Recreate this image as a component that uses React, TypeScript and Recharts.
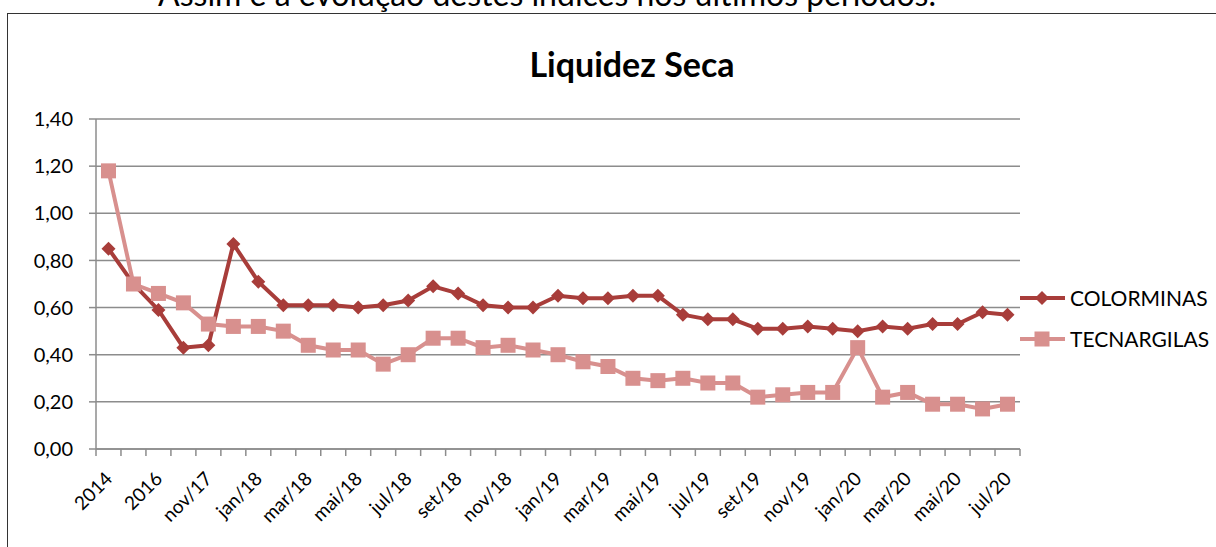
import React from "react";
import { LineChart, Line, XAxis, YAxis, CartesianGrid, Legend } from "recharts";

const months = [
  "2014", "2015", "2016", "2017", "nov/17", "dez/17", "jan/18", "fev/18",
  "mar/18", "abr/18", "mai/18", "jun/18", "jul/18", "ago/18", "set/18",
  "out/18", "nov/18", "dez/18", "jan/19", "fev/19", "mar/19", "abr/19",
  "mai/19", "jun/19", "jul/19", "ago/19", "set/19", "out/19", "nov/19",
  "dez/19", "jan/20", "fev/20", "mar/20", "abr/20", "mai/20", "jun/20",
  "jul/20",
];

const colorminas = [
  0.85, 0.7, 0.59, 0.43, 0.44, 0.87, 0.71, 0.61, 0.61, 0.61, 0.6, 0.61, 0.63,
  0.69, 0.66, 0.61, 0.6, 0.6, 0.65, 0.64, 0.64, 0.65, 0.65, 0.57, 0.55, 0.55,
  0.51, 0.51, 0.52, 0.51, 0.5, 0.52, 0.51, 0.53, 0.53, 0.58, 0.57,
];

const tecnargilas = [
  1.18, 0.7, 0.66, 0.62, 0.53, 0.52, 0.52, 0.5, 0.44, 0.42, 0.42, 0.36, 0.4,
  0.47, 0.47, 0.43, 0.44, 0.42, 0.4, 0.37, 0.35, 0.3, 0.29, 0.3, 0.28, 0.28,
  0.22, 0.23, 0.24, 0.24, 0.43, 0.22, 0.24, 0.19, 0.19, 0.17, 0.19,
];

const yTicks = [0, 0.2, 0.4, 0.6, 0.8, 1.0, 1.2, 1.4];

const data = months.map((month, i) => ({
  month,
  colorminas: colorminas[i],
  tecnargilas: tecnargilas[i],
}));

const FONT = "Lato, 'Open Sans', sans-serif";
const DARK = "#A83D3A";
const PINK = "#D8908E";
const AXIS = "#8c8c8c";

const W = 1216;
const H = 547;
const MARGIN = { top: 119, right: 6, bottom: 28, left: 36 };
const Y_AXIS_W = 60;
const LEGEND_W = 190;
const PLOT_W = W - MARGIN.left - Y_AXIS_W - MARGIN.right - LEGEND_W;
const HALF_BAND = PLOT_W / months.length / 2;

const diamondPath = (cx: number, cy: number, r: number) =>
  `M${cx},${cy - r}L${cx + r},${cy}L${cx},${cy + r}L${cx - r},${cy}Z`;

const DiamondDot = (props: any) => {
  const { cx, cy, index } = props;
  if (cx == null || cy == null) return <g key={index} />;
  return <path key={index} d={diamondPath(cx, cy, 7)} fill={DARK} />;
};

const SquareDot = (props: any) => {
  const { cx, cy, index } = props;
  if (cx == null || cy == null) return <g key={index} />;
  return (
    <rect key={index} x={cx - 7.5} y={cy - 7.5} width={15} height={15} fill={PINK} />
  );
};

// ticks sit between categories, labels on every other category
const XTick = (props: any) => {
  const { x, y, payload, index } = props;
  return (
    <g>
      <line x1={x - HALF_BAND} x2={x - HALF_BAND} y1={y} y2={y + 7} stroke={AXIS} strokeWidth={1.5} />
      {index === months.length - 1 && (
        <line x1={x + HALF_BAND} x2={x + HALF_BAND} y1={y} y2={y + 7} stroke={AXIS} strokeWidth={1.5} />
      )}
      {index % 2 === 0 && (
        <text
          transform={`translate(${x + 5},${y + 31}) rotate(-45)`}
          textAnchor="end"
          fontFamily={FONT}
          fontSize={19}
          fill="#000"
        >
          {payload.value}
        </text>
      )}
    </g>
  );
};

const LegendContent = (props: any) => {
  const { payload } = props;
  return (
    <div style={{ fontFamily: FONT, fontSize: 21, color: "#000" }}>
      {(payload || []).map((entry: any) => {
        const isDark = entry.dataKey === "colorminas";
        return (
          <div key={entry.value} style={{ display: "flex", alignItems: "center", height: 41 }}>
            <svg width={48} height={20} style={{ display: "block" }}>
              <line x1={0} x2={45} y1={10} y2={10} stroke={entry.color} strokeWidth={4} />
              {isDark ? (
                <path d={diamondPath(22, 10, 7)} fill={entry.color} />
              ) : (
                <rect x={14.5} y={2.5} width={15} height={15} fill={entry.color} />
              )}
            </svg>
            <span style={{ marginLeft: 2 }}>{entry.value}</span>
          </div>
        );
      })}
    </div>
  );
};

const App: React.FC = () => {
  return (
    <div
      style={{
        position: "absolute",
        left: 0,
        top: 0,
        width: W,
        height: H,
        overflow: "hidden",
        background: "#fff",
      }}
    >
      {/* caption of the page above, cut at the top edge as in the source */}
      <div
        style={{
          position: "absolute",
          left: 158,
          top: -26,
          fontFamily: FONT,
          fontSize: 32,
          whiteSpace: "nowrap",
          color: "#000",
        }}
      >
        Assim é a evolução destes índices nos últimos períodos.
      </div>
      <div
        style={{
          position: "absolute",
          left: 7,
          top: 13,
          width: W + 20,
          height: H + 20,
          borderLeft: "1.5px solid #333",
          borderTop: "1.5px solid #333",
        }}
      />
      <div
        style={{
          position: "absolute",
          left: 432,
          top: 43,
          width: 400,
          textAlign: "center",
          fontFamily: FONT,
          fontWeight: 700,
          fontSize: 34,
          color: "#000",
          whiteSpace: "nowrap",
        }}
      >
        Liquidez Seca
      </div>
      <div style={{ position: "absolute", left: 0, top: 0 }}>
        <LineChart width={W} height={H} data={data} margin={MARGIN}>
          <CartesianGrid horizontal vertical={false} stroke={AXIS} strokeWidth={1.5} />
          <XAxis
            dataKey="month"
            interval={0}
            height={70}
            padding={{ left: HALF_BAND, right: HALF_BAND }}
            tickLine={false}
            tickSize={0}
            tickMargin={0}
            axisLine={{ stroke: AXIS, strokeWidth: 1.5 }}
            tick={<XTick />}
          />
          <YAxis
            width={Y_AXIS_W}
            domain={[0, 1.4]}
            ticks={yTicks}
            interval={0}
            tickFormatter={(v: number) => v.toFixed(2).replace(".", ",")}
            tick={{ fill: "#000", fontSize: 20, fontFamily: FONT }}
            tickSize={7}
            tickMargin={16}
            tickLine={{ stroke: AXIS, strokeWidth: 1.5 }}
            axisLine={{ stroke: AXIS, strokeWidth: 1.5 }}
          />
          <Legend
            layout="vertical"
            align="right"
            verticalAlign="middle"
            content={<LegendContent />}
            wrapperStyle={{ width: LEGEND_W, top: 277 }}
          />
          <Line
            type="linear"
            dataKey="colorminas"
            name="COLORMINAS"
            stroke={DARK}
            strokeWidth={4}
            dot={DiamondDot}
            activeDot={false}
            isAnimationActive={false}
          />
          <Line
            type="linear"
            dataKey="tecnargilas"
            name="TECNARGILAS"
            stroke={PINK}
            strokeWidth={4}
            dot={SquareDot}
            activeDot={false}
            isAnimationActive={false}
          />
        </LineChart>
      </div>
    </div>
  );
};

export default App;
